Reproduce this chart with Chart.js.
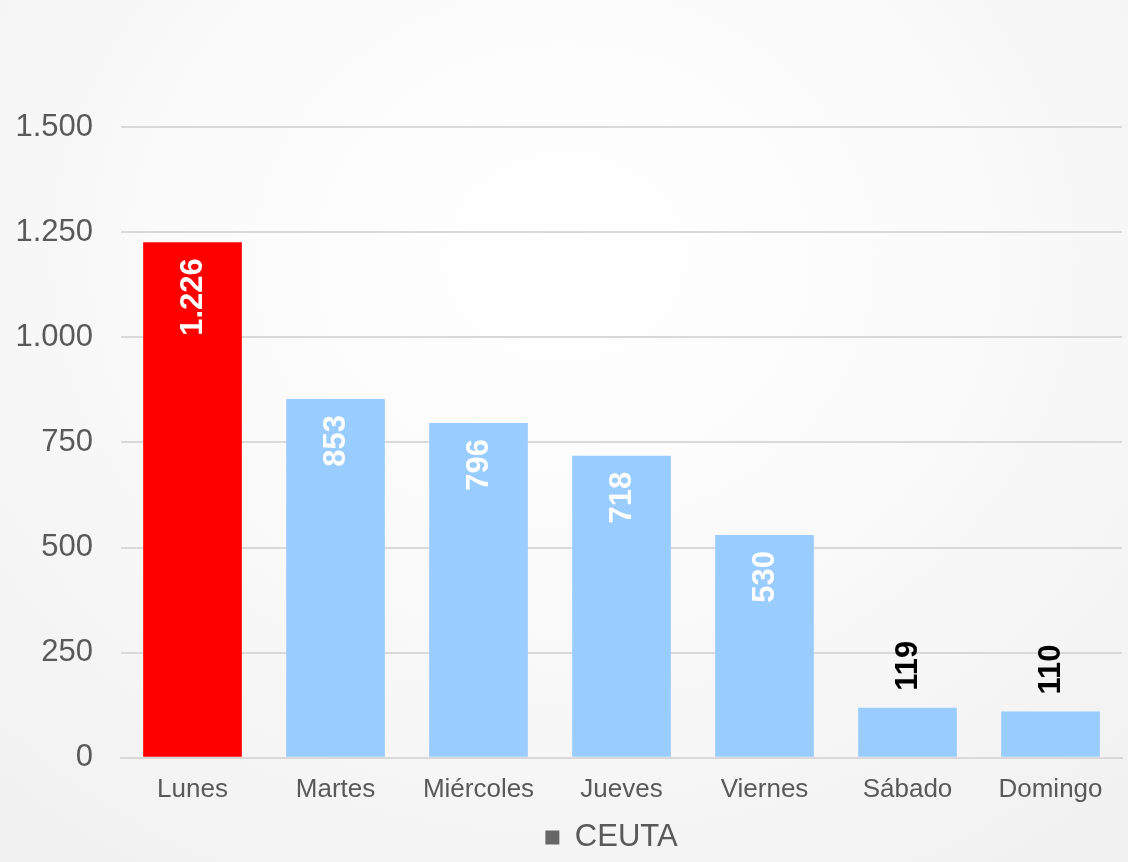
<!DOCTYPE html>
<html>
<head>
<meta charset="utf-8">
<script src="https://cdn.jsdelivr.net/npm/chart.js@4/dist/chart.umd.min.js"></script>
<style>
  html, body { margin: 0; padding: 0; }
  body {
    width: 1128px; height: 862px; overflow: hidden;
    background: radial-gradient(ellipse 75% 85% at 50% 30%, #ffffff 0%, #fbfbfb 40%, #f1f1f1 100%);
  }
  #wrap { position: absolute; left: 0; top: 0; width: 1128px; height: 862px; }
</style>
</head>
<body>
<div id="wrap"><canvas id="c" width="1128" height="862"></canvas></div>
<script>
const categories = ["Lunes", "Martes", "Miércoles", "Jueves", "Viernes", "Sábado", "Domingo"];
const seriesName = "CEUTA";
const values = [1226, 853, 796, 718, 530, 119, 110];
const barColors = ["#FF0000", "#99CCFF", "#99CCFF", "#99CCFF", "#99CCFF", "#99CCFF", "#99CCFF"];
const yTicks = [0, 250, 500, 750, 1000, 1250, 1500];

function fmt(v) {
  return String(v).replace(/\B(?=(\d{3})+(?!\d))/g, ".");
}

const FONT = "'Liberation Sans', Arial, sans-serif";

const valueLabels = {
  id: "valueLabels",
  afterDatasetsDraw(chart) {
    const ctx = chart.ctx;
    const meta = chart.getDatasetMeta(0);
    ctx.save();
    ctx.font = "bold 31px " + FONT;
    meta.data.forEach((bar, i) => {
      const txt = fmt(values[i]);
      const w = ctx.measureText(txt).width;
      const h = bar.base - bar.y;
      const inside = h > w + 32;
      ctx.save();
      if (inside) {
        ctx.translate(bar.x, bar.y + 16);
        ctx.rotate(-Math.PI / 2);
        ctx.textAlign = "right";
        ctx.fillStyle = "#FFFFFF";
      } else {
        ctx.translate(bar.x, bar.y - 17);
        ctx.rotate(-Math.PI / 2);
        ctx.textAlign = "left";
        ctx.fillStyle = "#000000";
      }
      ctx.textBaseline = "middle";
      ctx.fillText(txt, 0, 1);
      ctx.restore();
    });
    ctx.restore();
  }
};

const legendShift = {
  id: "legendShift",
  afterLayout(chart) {
    const lg = chart.legend;
    if (!lg) return;
    const ca = chart.chartArea;
    lg.left = ca.left - 10;
    lg.right = ca.right - 10;
    lg.top += 1;
    lg.bottom += 1;
  }
};

new Chart(document.getElementById("c"), {
  type: "bar",
  data: {
    labels: categories,
    datasets: [{
      label: seriesName,
      data: values,
      backgroundColor: barColors,
      borderWidth: 0,
      barPercentage: 0.69,
      categoryPercentage: 1.0
    }]
  },
  options: {
    responsive: false,
    animation: false,
    devicePixelRatio: 1,
    layout: { padding: { top: 127, right: 6, bottom: 0, left: 0 } },
    scales: {
      x: {
        grid: { display: false, drawTicks: false },
        border: { display: true, color: "#d9d9d9", width: 2 },
        ticks: { color: "#595959", font: { family: FONT, size: 26 }, padding: 16, maxRotation: 0 }
      },
      y: {
        min: 0, max: 1500,
        afterBuildTicks(scale) { scale.ticks = yTicks.map(v => ({ value: v })); },
        afterFit(scale) { scale.width = 121; },
        grid: { color: "#d9d9d9", lineWidth: 2, drawTicks: false },
        border: { display: false },
        ticks: {
          color: "#595959",
          font: { family: FONT, size: 31 },
          padding: 28,
          callback: v => fmt(v)
        }
      }
    },
    plugins: {
      legend: {
        position: "bottom",
        labels: {
          color: "#595959",
          font: { family: FONT, size: 31 },
          boxWidth: 14, boxHeight: 14,
          padding: 0,
          generateLabels: () => [{ text: seriesName, fillStyle: "#666666", strokeStyle: "#666666", fontColor: "#595959", lineWidth: 0, hidden: false, datasetIndex: 0 }]
        }
      },
      tooltip: { enabled: false }
    }
  },
  plugins: [valueLabels, legendShift]
});
</script>
</body>
</html>
